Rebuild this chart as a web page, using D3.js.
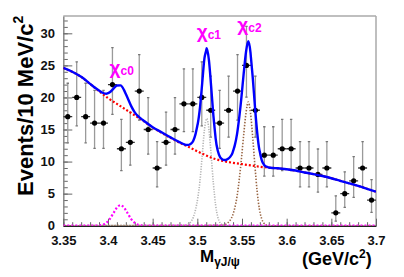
<!DOCTYPE html>
<html><head><meta charset="utf-8">
<script src="https://cdn.jsdelivr.net/npm/d3@7"></script>
<style>
body{margin:0;background:#fff}
svg{display:block}
text{font-family:"Liberation Sans",Arial,Helvetica,sans-serif;font-weight:bold}
</style></head>
<body><svg id="c" width="404" height="277"></svg>
<script>
// ---- data ----
const massCenters=[3.355,3.365,3.375,3.385,3.395,3.405,3.415,3.425,3.435,3.445,3.455,3.465,3.475,3.485,3.495,3.505,3.515,3.525,3.535,3.545,3.555,3.565,3.575,3.585,3.595,3.605,3.615,3.625,3.635,3.645,3.655,3.665,3.675,3.685,3.695];
const counts=[17,20,17,16,16,22,12,13,21,15,9,13,15,19,19,20,18,16,18,21,25,18,11,11,12,12,9,9,8,9,2,5,7,9,4];

const bkgX=[3.35,3.36,3.37,3.38,3.39,3.40,3.41,3.42,3.43,3.44,3.45,3.46,3.47,3.48,3.49,3.50,3.51,3.52,3.53,3.54,3.55,3.56,3.57,3.58,3.59,3.60,3.61,3.62,3.63,3.64,3.65,3.66,3.67,3.68,3.69,3.70];
const bkgY=[24.6,24.0,23.2,22.1,21.0,19.9,19.0,18.1,17.2,16.3,15.3,14.5,13.7,12.95,12.3,11.6,10.95,10.4,10.05,9.8,9.6,9.4,9.2,9.05,8.95,8.8,8.6,8.3,8.05,7.75,7.4,7.0,6.6,6.2,5.75,5.3];

const chic0X=[3.35,3.386,3.390,3.394,3.398,3.402,3.406,3.410,3.414,3.418,3.422,3.426,3.430,3.434,3.438,3.442,3.70];
const chic0Y=[0,0,0.04,0.14,0.43,1.04,1.94,2.82,3.2,2.82,1.94,1.04,0.43,0.14,0.04,0,0];

const chic1X=[3.35,3.4855,3.488,3.4905,3.493,3.4955,3.498,3.5005,3.503,3.5055,3.508,3.5105,3.513,3.5155,3.518,3.5205,3.523,3.5255,3.528,3.5305,3.533,3.70];
const chic1Y=[0,0.05,0.12,0.3,0.65,1.3,2.5,4.3,7.0,11.0,15.0,16.7,15.0,11.0,6.6,3.2,1.3,0.45,0.13,0.03,0,0];

const chic2X=[3.35,3.527,3.5295,3.532,3.5345,3.537,3.5395,3.542,3.5445,3.547,3.5495,3.552,3.5545,3.557,3.5595,3.562,3.5645,3.567,3.5695,3.572,3.5745,3.577,3.5795,3.582,3.70];
const chic2Y=[0,0.05,0.12,0.25,0.5,0.9,1.6,2.8,4.6,7.3,10.6,14.3,17.6,19.3,17.6,13.8,9.3,5.3,2.6,1.1,0.4,0.12,0.03,0,0];

const xTickValues=[3.35,3.4,3.45,3.5,3.55,3.6,3.65,3.7];
const xTickLabels=["3.35","3.4","3.45","3.5","3.55","3.6","3.65","3.7"];
const yTickValues=[0,5,10,15,20,25,30];
const yTickLabels=["0","5","10","15","20","25","30"];
const peakLabels=[{name:"χ",sub:"c0",x:3.413,y:23.7},{name:"χ",sub:"c1",x:3.5105,y:29.2},{name:"χ",sub:"c2",x:3.556,y:30.3}];

// ---- layout ----
const L=63.3,R=376,T=16,B=225.7;
const svg=d3.select("#c");
const x=d3.scaleLinear().domain([3.35,3.70]).range([L,R]);
const y=d3.scaleLinear().domain([0,32.7]).range([B,T]);

svg.append("defs").append("clipPath").attr("id","clip")
  .append("rect").attr("x",L).attr("y",T).attr("width",R-L).attr("height",B-T);

// frame top/right
svg.append("line").attr("x1",L).attr("x2",R).attr("y1",T).attr("y2",T).attr("stroke","#aaa").attr("stroke-width",1.5);
svg.append("line").attr("x1",R).attr("x2",R).attr("y1",T).attr("y2",B).attr("stroke","#aaa").attr("stroke-width",1.5);

// y axis minor
const yMinor=d3.axisLeft(y).tickValues(d3.range(0,33,1)).tickSize(-4.5).tickSizeOuter(0).tickFormat("");
svg.append("g").attr("transform",`translate(${L},0)`).call(yMinor)
  .call(g=>g.selectAll("line").attr("stroke","#666").attr("stroke-width",1))
  .call(g=>g.select(".domain").remove());
const yAxis=d3.axisLeft(y).tickValues(yTickValues).tickSize(-9).tickSizeOuter(0).tickPadding(8.3)
  .tickFormat((d,i)=>yTickLabels[i]);
svg.append("g").attr("transform",`translate(${L},0)`).call(yAxis)
  .call(g=>g.selectAll("line").attr("stroke","#666").attr("stroke-width",1))
  .call(g=>g.select(".domain").attr("stroke","#888").attr("stroke-width",1.5))
  .call(g=>g.selectAll("text").attr("font-size",13).attr("fill","#111").attr("dy","0.3em")
     .style("font-family",'"Liberation Sans",Arial,sans-serif').style("font-weight","bold"));

// x axis
const xMinor=d3.axisBottom(x).tickValues(d3.range(0,36).map(i=>3.35+i*0.01)).tickSize(-3.5).tickSizeOuter(0).tickFormat("");
svg.append("g").attr("transform",`translate(0,${B})`).call(xMinor)
  .call(g=>g.selectAll("line").attr("stroke","#666").attr("stroke-width",1))
  .call(g=>g.select(".domain").remove());
const xAxis=d3.axisBottom(x).tickValues(xTickValues).tickSize(-7).tickSizeOuter(0).tickPadding(9.6)
  .tickFormat((d,i)=>xTickLabels[i]);
svg.append("g").attr("transform",`translate(0,${B})`).call(xAxis)
  .call(g=>g.selectAll("line").attr("stroke","#666").attr("stroke-width",1))
  .call(g=>g.select(".domain").attr("stroke","#222").attr("stroke-width",1.5))
  .call(g=>g.selectAll("text").attr("font-size",13).attr("fill","#111")
     .style("font-family",'"Liberation Sans",Arial,sans-serif').style("font-weight","bold"));

// titles
const yt=svg.append("text").attr("transform","translate(33,196) rotate(-90)")
  .attr("font-size",22).attr("fill","#000").attr("text-anchor","start");
yt.append("tspan").text("Events/10 MeV/c");
yt.append("tspan").attr("font-size",14).attr("dy",-10).text("2");

const xt=svg.append("text").attr("x",200).attr("y",262).attr("font-size",17).attr("fill","#000");
xt.append("tspan").text("M");
xt.append("tspan").attr("font-size",12).attr("dy",4).text("γJ/ψ");
const ut=svg.append("text").attr("x",302).attr("y",265).attr("font-size",18).attr("fill","#000");
ut.append("tspan").text("(GeV/c");
ut.append("tspan").attr("font-size",12).attr("dy",-7).text("2");
ut.append("tspan").attr("dy",7).text(")");

// data error bars
const pts=massCenters.map((m,i)=>{
  const n=counts[i];
  const lo=n>0? n*Math.pow(1-1/(9*n)-1/(3*Math.sqrt(n)),3):0;
  const hi=n+Math.sqrt(n+0.75)+1;
  return {m,n,lo,hi};
});
const halfBin=0.005;
const gData=svg.append("g").attr("clip-path","url(#clip)");
gData.selectAll("line.v").data(pts).join("line").attr("class","v")
  .attr("x1",d=>x(d.m)).attr("x2",d=>x(d.m)).attr("y1",d=>y(d.lo)).attr("y2",d=>y(d.hi))
  .attr("stroke","#9a9a9a").attr("stroke-width",1.3);
gData.selectAll("line.ct").data(pts).join("line").attr("class","ct")
  .attr("x1",d=>x(d.m)-1.2).attr("x2",d=>x(d.m)+1.2).attr("y1",d=>y(d.hi)).attr("y2",d=>y(d.hi))
  .attr("stroke","#777").attr("stroke-width",1.3);
gData.selectAll("line.cb").data(pts).join("line").attr("class","cb")
  .attr("x1",d=>x(d.m)-1.2).attr("x2",d=>x(d.m)+1.2).attr("y1",d=>y(d.lo)).attr("y2",d=>y(d.lo))
  .attr("stroke","#777").attr("stroke-width",1.3);
gData.selectAll("line.h").data(pts).join("line").attr("class","h")
  .attr("x1",d=>x(d.m-halfBin)).attr("x2",d=>x(d.m+halfBin)).attr("y1",d=>y(d.n)).attr("y2",d=>y(d.n))
  .attr("stroke","#333").attr("stroke-width",1.3);

// curves
const gC=svg.append("g").attr("clip-path","url(#clip)");
const line=d3.line().x(d=>x(d[0])).y(d=>y(d[1])).curve(d3.curveMonotoneX);
const zip=(a,b)=>a.map((v,i)=>[v,b[i]]);
gC.append("path").attr("d",line(zip(chic1X,chic1Y))).attr("fill","none")
  .attr("stroke","#b4b4b4").attr("stroke-width",1.6).attr("stroke-dasharray","1.2,1.4");
gC.append("path").attr("d",line(zip(chic2X,chic2Y))).attr("fill","none")
  .attr("stroke","#996644").attr("stroke-width",1.6).attr("stroke-dasharray","1.4,1.6");
gC.append("path").attr("d",line(zip(chic0X,chic0Y))).attr("fill","none")
  .attr("stroke","#ff00ff").attr("stroke-width",2.2).attr("stroke-dasharray","2,2");
gC.append("path").attr("d",line(zip(bkgX,bkgY))).attr("fill","none")
  .attr("stroke","#ff0000").attr("stroke-width",2.2).attr("stroke-dasharray","2,2");

// total = sum of components
const sB=d3.scaleLinear().domain(bkgX).range(bkgY).clamp(true);
const s0=d3.scaleLinear().domain(chic0X).range(chic0Y).clamp(true);
const s1=d3.scaleLinear().domain(chic1X).range(chic1Y).clamp(true);
const s2=d3.scaleLinear().domain(chic2X).range(chic2Y).clamp(true);
const allX=Array.from(new Set([...bkgX,...chic0X,...chic1X,...chic2X])).sort((a,b)=>a-b);
const total=allX.map(v=>[v,sB(v)+s0(v)+s1(v)+s2(v)]);
gC.append("path").attr("d",line(total)).attr("fill","none")
  .attr("stroke","#0000ff").attr("stroke-width",2.4);

// markers
gData.selectAll("circle").data(pts).join("circle")
  .attr("cx",d=>x(d.m)).attr("cy",d=>y(d.n)).attr("r",2.6).attr("fill","#000");

// peak labels
peakLabels.forEach(p=>{
  const t=svg.append("text").attr("x",x(p.x)-10).attr("y",y(p.y)).attr("font-size",19).attr("fill","#ff00ff");
  t.append("tspan").text(p.name);
  t.append("tspan").attr("font-size",12).attr("dy",1).text(p.sub);
});
</script></body></html>
